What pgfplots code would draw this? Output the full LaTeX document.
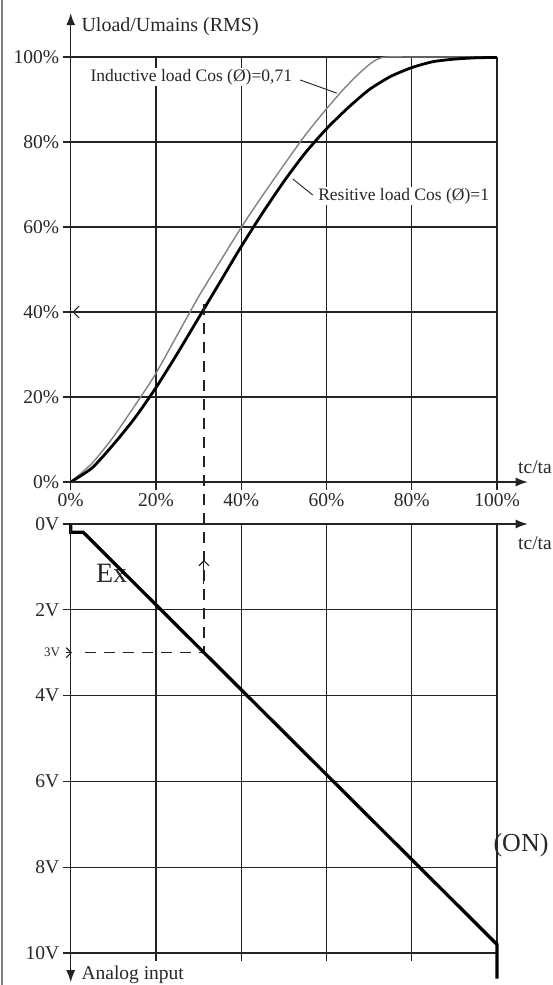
\documentclass[border=0pt]{standalone}
\usepackage{fontspec}
\setmainfont{Liberation Serif}
\usepackage{pgfplots}
\usepackage{pgfplotstable}
\pgfplotsset{compat=1.18}
\usetikzlibrary{arrows.meta}

\pgfplotstableread{
x y
0 0
5 3.3
10 8.8
15 15.0
20 22.2
25 30.2
30 38.6
35 47.0
40 55.4
45 63.3
50 70.7
55 77.4
60 83.1
65 88.0
70 92.3
75 95.4
80 97.5
85 98.9
90 99.5
95 99.8
100 99.9
}\resistive

\pgfplotstableread{
x y
0 0
5 4.4
10 10.6
16.4 20
20 25.6
25 34.6
30 43.6
35 51.8
40 59.9
45 67.4
50 74.6
55 81.6
60 87.8
64 92.4
67 95.5
70 98.2
72 99.5
74 100
80 100
100 100
}\inductive

\pgfplotstableread{
x y
0 0
0 0.19
2.9 0.19
100 9.8
100 10.6
}\analog

\pgfplotstableread{
x y
3.4 3
31.25 3
31.25 -5.3
}\guide

\definecolor{gridc}{RGB}{35,35,35}
\definecolor{txtc}{RGB}{40,40,40}

\begin{document}
\begin{tikzpicture}[x=1pt,y=1pt]
\useasboundingbox (0,0) rectangle (553,985);
\fill[white] (0,0) rectangle (553,985);
\draw[gray, line width=1.5pt] (2,0) -- (2,985);

% ---------- top chart ----------
\begin{axis}[
  at={(70.7pt,503pt)}, anchor=south west,
  scale only axis, width=426.3pt, height=425pt,
  xmin=0, xmax=100, ymin=0, ymax=100, clip=false,
  axis line style={draw=none},
  grid=major, grid style={line width=1.1pt, color=gridc},
  xtick={0,20,...,100}, ytick={0,20,...,100},
  xticklabels={0\%,20\%,40\%,60\%,80\%,100\%},
  yticklabels={0\%,20\%,40\%,60\%,80\%,100\%},
  tick align=outside, major tick length=8pt,
  tick style={line width=1.1pt, color=gridc},
  xtick pos=left, ytick pos=left,
  ticklabel style={font=\fontsize{19.5}{19.5}\selectfont, text=txtc},
]
\addplot[color={rgb,255:red,130;green,130;blue,130}, line width=1.4pt, smooth, tension=0.4] table {\inductive};
\addplot[black, line width=2.8pt, smooth, tension=0.4] table {\resistive};
% axes with arrows
\draw[line width=1.2pt, gridc, -{Latex[length=12pt,width=9pt]}] (axis cs:0,0) -- (axis cs:0,110.3);
\draw[line width=1.2pt, gridc, -{Latex[length=12pt,width=9pt]}] (axis cs:0,0) -- (axis cs:107.2,0);
\draw[line width=1.1pt, gridc, -{Straight Barb[length=6pt,width=12pt]}] (axis cs:4,40) -- (axis cs:0.4,40);
% labels
\node[fill=white, inner sep=1pt, font=\fontsize{17.5}{17.5}\selectfont, text=txtc] at (axis cs:28.3,95.3) {Inductive load Cos (Ø)=0,71};
\node[fill=white, inner sep=1pt, font=\fontsize{17.5}{17.5}\selectfont, text=txtc] at (axis cs:78.1,67.3) {Resitive load Cos (Ø)=1};
\draw[line width=0.9pt, gridc] (axis cs:53.8,94.6) -- (axis cs:62.4,91.5);
\draw[line width=0.9pt, gridc] (axis cs:52.1,71.3) -- (axis cs:56.8,67.5);
\end{axis}

% ---------- bottom chart ----------
\begin{axis}[
  at={(70.7pt,32pt)}, anchor=south west,
  scale only axis, width=426.3pt, height=429pt,
  y dir=reverse,
  xmin=0, xmax=100, ymin=0, ymax=10, clip=false,
  axis line style={draw=none},
  grid=major, grid style={line width=1.1pt, color=gridc},
  xtick={0,20,...,100}, xticklabels={},
  ytick={0,2,...,10},
  yticklabels={0V,2V,4V,6V,8V,10V},
  tick align=outside, major tick length=8pt,
  tick style={line width=1.1pt, color=gridc},
  xtick pos=left, ytick pos=left,
  ticklabel style={font=\fontsize{19.5}{19.5}\selectfont, text=txtc},
]
\node[font=\fontsize{28}{28}\selectfont, text=txtc] at (axis cs:9.6,1.14) {Ex};
\addplot[gridc, line width=1.2pt, dash pattern=on 11pt off 8pt] table {\guide};
\addplot[black, line width=3.3pt] table {\analog};
\draw[line width=1.2pt, gridc, -{Latex[length=12pt,width=9pt]}] (axis cs:0,0) -- (axis cs:107.2,0);
\draw[line width=1.2pt, gridc, -{Latex[length=12pt,width=9pt]}] (axis cs:0,0) -- (axis cs:0,10.68);
\draw[line width=1.1pt, gridc, -{Straight Barb[length=5pt,width=10pt]}] (axis cs:31.25,1.4) -- (axis cs:31.25,0.84);
\draw[line width=1.1pt, gridc, -{Straight Barb[length=5pt,width=10pt]}] (axis cs:-1.2,3) -- (axis cs:0.3,3);
\end{axis}

\node[font=\fontsize{20}{20}\selectfont, text=txtc, anchor=west] at (78,958) {Uload/Umains (RMS)};
\node[font=\fontsize{19.5}{19.5}\selectfont, text=txtc] at (535,518) {tc/ta};
\node[font=\fontsize{19.5}{19.5}\selectfont, text=txtc] at (535,442) {tc/ta};
\node[font=\fontsize{19.5}{19.5}\selectfont, text=txtc, anchor=west] at (78,10) {Analog input};
\node[font=\fontsize{13}{13}\selectfont, text=txtc] at (52,333) {3V};
\node[font=\fontsize{26}{26}\selectfont, text=txtc] at (521,140) {(ON)};
\end{tikzpicture}
\end{document}
